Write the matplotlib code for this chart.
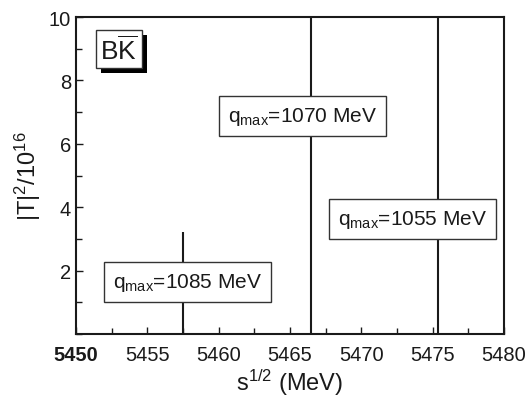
import matplotlib
matplotlib.use("Agg")
import matplotlib.pyplot as plt
import matplotlib.patheffects as pe
from matplotlib.ticker import MultipleLocator

# --- estilo ---
plt.rcParams['font.family'] = 'Liberation Sans'
plt.rcParams['mathtext.fontset'] = 'custom'
plt.rcParams['mathtext.rm'] = 'Liberation Sans'
plt.rcParams['mathtext.it'] = 'Liberation Sans:italic'
plt.rcParams['mathtext.bf'] = 'Liberation Sans:bold'

# --- dados ---
peak_pos = [5457.5, 5466.5, 5475.4]      # sqrt(s) (MeV)
peak_height = [3.23, 12.0, 12.0]        # |T|^2/10^16 (cortado no topo)
peak_labels = ['1085', '1070', '1055']  # q_max (MeV)
label_pos = [(5457.8, 1.64), (5465.9, 6.88), (5473.6, 3.63)]
xticks = [5450, 5455, 5460, 5465, 5470, 5475, 5480]
yticks = [2, 4, 6, 8, 10]

fig = plt.figure(figsize=(5.29, 4.02), dpi=100, facecolor='white')
ax = fig.add_axes([0.1437, 0.1667, 0.8090, 0.7883])

ax.vlines(peak_pos, 0, peak_height, color='#1a1a1a', linewidth=1.5)

for lab, (x, y) in zip(peak_labels, label_pos):
    ax.text(x, y, r'q$_{\mathrm{max}}$=' + lab + ' MeV', fontsize=15,
            ha='center', va='center', color='#1a1a1a',
            bbox=dict(boxstyle='square,pad=0.42', facecolor='white',
                      edgecolor='#333333', linewidth=1.0))

# caixa "BK-bar" com sombra
t = ax.text(0.100, 0.899, r'B$\overline{\mathrm{K}}$', transform=ax.transAxes,
            fontsize=19, ha='center', va='center', color='#1a1a1a',
            bbox=dict(boxstyle='square,pad=0.16', facecolor='white',
                      edgecolor='#333333', linewidth=1.0))
t.get_bbox_patch().set_path_effects([
    pe.SimplePatchShadow(offset=(3.6, -3.6), shadow_rgbFace='black', alpha=1.0),
    pe.Normal()])

ax.set_xlim(5450, 5480)
ax.set_ylim(0, 10)
ax.set_xticks(xticks, [str(v) for v in xticks])
ax.xaxis.set_minor_locator(MultipleLocator(2.5))
ax.set_yticks(yticks)
ax.yaxis.set_minor_locator(MultipleLocator(1))
ax.tick_params(which='both', direction='in', labelsize=14.5, colors='#1a1a1a',
               width=1.0)
ax.tick_params(which='major', length=5)
ax.tick_params(which='minor', length=4)
ax.tick_params(axis='x', pad=8)
for s in ax.spines.values():
    s.set_linewidth(1.5)
    s.set_color('#1a1a1a')

ax.set_xlabel(r'$\mathrm{s}^{1/2}$ (MeV)', fontsize=17, color='#1a1a1a', labelpad=2)
ax.set_ylabel(r'|T|$^{2}$/10$^{16}$', fontsize=17, color='#1a1a1a', labelpad=4)

ax.get_xticklabels()[0].set_fontweight('bold')

fig.savefig('out.png', dpi=100)
